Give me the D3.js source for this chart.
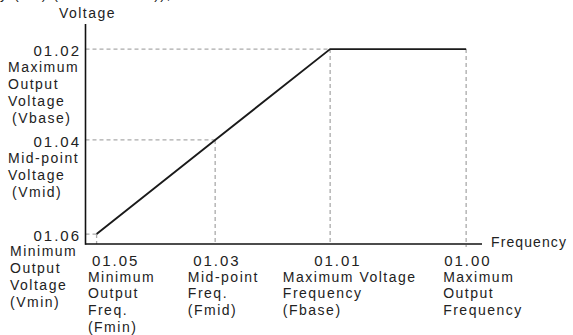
<!DOCTYPE html>
<html><head><meta charset="utf-8">
<script src="https://cdn.jsdelivr.net/npm/d3@7"></script>
<style>
html,body{margin:0;padding:0;background:#fff;}
svg{display:block;}
text{font-family:"Liberation Sans",Arial,Helvetica,sans-serif;fill:#222;}
</style></head>
<body>
<script>
// ---- data ----
const freqCodes = ["01.05", "01.03", "01.01", "01.00"];
const freqValues = [2.8, 32.7, 61.7, 96];          // Fmin, Fmid, Fbase, Fmax (relative %)
const freqLabels = [
  ["Minimum", "Output", "Freq.", "(Fmin)"],
  ["Mid-point", "Freq.", "(Fmid)"],
  ["Maximum Voltage", "Frequency", "(Fbase)"],
  ["Maximum", "Output", "Frequency"]
];
const voltCodes = ["01.02", "01.04", "01.06"];
const voltValues = [88.6, 47.3, 4.5];               // Vbase, Vmid, Vmin (relative %)
const voltLabels = [
  ["Maximum", "Output", "Voltage", "(Vbase)"],
  ["Mid-point", "Voltage", "(Vmid)"],
  ["Minimum", "Output", "Voltage", "(Vmin)"]
];
// V/f curve: (Fmin,Vmin) -> (Fmid,Vmid) -> (Fbase,Vbase) -> (Fmax,Vbase)
const curveF = [2.8, 32.7, 61.7, 96];
const curveV = [4.5, 47.3, 88.6, 88.6];
const axisTitles = ["Voltage", "Frequency"];

// ---- layout ----
const W = 573, H = 335;
const svg = d3.select("body").append("svg").attr("width", W).attr("height", H);
const x = d3.scaleLinear().domain([0, 100]).range([85.5, 482]);
const y = d3.scaleLinear().domain([0, 100]).range([244, 24]);

const numStyle = s => s.style("font-size", "15px").style("letter-spacing", "2px");
const txtStyle = s => s.style("font-size", "14px").style("letter-spacing", "1.5px");

// cut-off caption at top
svg.append("text").attr("x", 0).attr("y", -1.5).call(txtStyle)
  .text("y (V/f) (01.00~01.06)),");

// dashed guides
const dash = svg.append("g").attr("stroke", "#aaa").attr("stroke-width", 1.3)
  .attr("stroke-dasharray", "4,3").attr("fill", "none");
const vPts = [[61.7, 88.6], [32.7, 47.3], [2.8, 4.5]];
vPts.forEach(p => {
  dash.append("line").attr("x1", x(0)).attr("x2", x(p[0])).attr("y1", y(p[1])).attr("y2", y(p[1]));
});
curveF.forEach((f, i) => {
  dash.append("line").attr("x1", x(f)).attr("x2", x(f)).attr("y1", y(curveV[i])).attr("y2", y(0) + (i === 3 ? 3 : 0));
});

// axes
const ax = svg.append("g").attr("stroke", "#111").attr("stroke-width", 1.6);
ax.append("line").attr("x1", x(0)).attr("x2", x(0)).attr("y1", y(100)).attr("y2", y(0) + 0.8);
ax.append("line").attr("x1", x(0)).attr("x2", x(100)).attr("y1", y(0)).attr("y2", y(0));

// curve
const line = d3.line().x(d => x(d[0])).y(d => y(d[1]));
svg.append("path").datum(curveF.map((f, i) => [f, curveV[i]]))
  .attr("d", line).attr("fill", "none").attr("stroke", "#1a1a1a").attr("stroke-width", 1.9);

// axis titles
svg.append("text").attr("x", x(0) + 2).attr("y", 18).attr("text-anchor", "middle").call(txtStyle).text(axisTitles[0]);
svg.append("text").attr("x", 491).attr("y", 247).call(txtStyle).style("letter-spacing", "1.1px").text(axisTitles[1]);

// voltage labels
const vLeft = [8, 8, 10];
const vFirst = [22.7, 23, 21.5];
voltCodes.forEach((c, i) => {
  const yy = y(voltValues[i]);
  svg.append("text").attr("x", 81).attr("y", yy + 7).attr("text-anchor", "end").call(numStyle).text(c);
  voltLabels[i].forEach((t, j) => {
    const paren = t.startsWith("(") && i < 2;
    svg.append("text").attr("x", vLeft[i] + (paren ? 4 : 0)).attr("y", yy + vFirst[i] + j * 17)
      .call(txtStyle).text(t);
  });
});

// frequency labels
const fNumDx = [-4.7, -22, -16, -22];
const fTxtDx = [-8.7, -27.3, -47.3, -23];
freqCodes.forEach((c, i) => {
  const xx = x(freqValues[i]);
  svg.append("text").attr("x", xx + fNumDx[i]).attr("y", 266).call(numStyle).text(c);
  freqLabels[i].forEach((t, j) => {
    svg.append("text").attr("x", xx + fTxtDx[i]).attr("y", 281.5 + j * 16.7)
      .call(txtStyle).text(t);
  });
});
</script>
</body></html>
